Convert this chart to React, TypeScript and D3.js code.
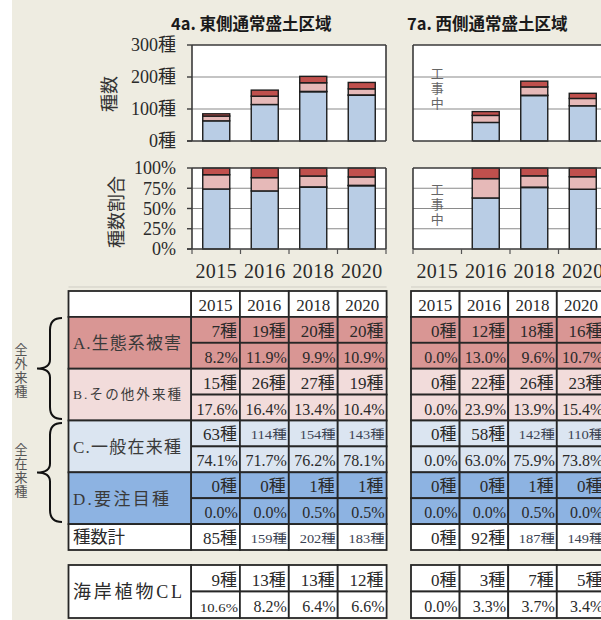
import React from 'react';
import * as d3 from 'd3';

const years = ['2015', '2016', '2018', '2020'];

// East (4a) counts
const eastA = [7, 19, 20, 20];
const eastB = [15, 26, 27, 19];
const eastC = [63, 114, 154, 143];
const eastD = [0, 0, 1, 1];
const eastTotal = [85, 159, 202, 183];
// East percents
const eastApct = [8.2, 11.9, 9.9, 10.9];
const eastBpct = [17.6, 16.4, 13.4, 10.4];
const eastCpct = [74.1, 71.7, 76.2, 78.1];
const eastDpct = [0.0, 0.0, 0.5, 0.5];
const eastCL = [9, 13, 13, 12];
const eastCLpct = [10.6, 8.2, 6.4, 6.6];

// West (7a) counts
const westA = [0, 12, 18, 16];
const westB = [0, 22, 26, 23];
const westC = [0, 58, 142, 110];
const westD = [0, 0, 1, 0];
const westTotal = [0, 92, 187, 149];
const westApct = [0.0, 13.0, 9.6, 10.7];
const westBpct = [0.0, 23.9, 13.9, 15.4];
const westCpct = [0.0, 63.0, 75.9, 73.8];
const westDpct = [0.0, 0.0, 0.5, 0.0];
const westCL = [0, 3, 7, 5];
const westCLpct = [0.0, 3.3, 3.7, 3.4];

const countTicks = [0, 100, 200, 300];
const pctTicks = [0, 25, 50, 75, 100];

const SERIF = "'Liberation Serif','Noto Sans CJK JP',serif";
const SANS = "'Noto Sans CJK JP','Noto Sans',sans-serif";

const BAR = { A: '#C0504D', B: '#E6B9B8', C: '#B9CDE5', D: '#8DB3E2' } as Record<string, string>;
const ROWBG = { A: '#D99694', B: '#F2DCDB', C: '#DBE5F1', D: '#8DB3E2' } as Record<string, string>;
const INK = '#2a2a2a';
const LINE = '#262626';

type Series = { A: number[]; B: number[]; C: number[]; D: number[] };

function Chart(props: {
  x0: number; x1: number; yTop: number; yBottom: number; max: number;
  ticks: number[]; fmt: (v: number) => string; data: Series; showLabels: boolean;
  xTicks: boolean; construction: boolean;
}) {
  const { x0, x1, yTop, yBottom, max, ticks, fmt, data, showLabels, xTicks, construction } = props;
  const x = d3.scaleBand<string>().domain(years).range([x0, x1]).paddingInner(0.443).paddingOuter(0.2215);
  const y = d3.scaleLinear().domain([0, max]).range([yBottom, yTop]);
  const rows = years.map((yr, i) => ({ year: yr, C: data.C[i], D: data.D[i], B: data.B[i], A: data.A[i] }));
  const stacked = d3.stack<any>().keys(['C', 'D', 'B', 'A'])(rows);
  const step = x.step();
  const bounds = d3.range(years.length + 1).map(k => x0 + k * step);
  return (
    <g>
      <rect x={x0} y={yTop} width={x1 - x0} height={yBottom - yTop} fill="#fff" />
      {ticks.filter(t => t > 0 && t < max).map(t => (
        <line key={'g' + t} x1={x0} x2={x1} y1={y(t)} y2={y(t)} stroke="#8a8a8a" strokeWidth={1.2} />
      ))}
      {stacked.map(layer => layer.map((seg, i) => {
        const h = y(seg[0]) - y(seg[1]);
        if (h <= 0) return null;
        return (
          <rect key={layer.key + i} x={x(years[i])} y={y(seg[1])} width={x.bandwidth()} height={h}
            fill={BAR[layer.key]} stroke="#1c1c1c" strokeWidth={1.4} />
        );
      }))}
      <line x1={x0} x2={x1} y1={yTop} y2={yTop} stroke="#3a3a3a" strokeWidth={1.6} />
      <line x1={x1} x2={x1} y1={yTop} y2={yBottom} stroke="#3a3a3a" strokeWidth={1.6} />
      <line x1={x0} x2={x0} y1={yTop} y2={yBottom} stroke="#3a3a3a" strokeWidth={1.6} />
      <line x1={x0 - (showLabels ? 5 : 0)} x2={x1} y1={yBottom} y2={yBottom} stroke="#3a3a3a" strokeWidth={1.6} />
      {showLabels && ticks.map(t => (
        <g key={'t' + t}>
          <line x1={x0 - 5} x2={x0} y1={y(t)} y2={y(t)} stroke="#3a3a3a" strokeWidth={1.4} />
          <text x={176} y={y(t)} dy="0.36em" textAnchor="end" fontFamily={SERIF} fontSize={18} fill={INK}>{fmt(t)}</text>
        </g>
      ))}
      {xTicks && bounds.map((b, k) => (
        <line key={'xt' + k} x1={b} x2={b} y1={yBottom} y2={yBottom + 5} stroke="#555" strokeWidth={1.2} />
      ))}
      {construction && (
        <text x={(x(years[0]) as number) + x.bandwidth() / 2} y={yTop + (yBottom - yTop) * 0.45 - 22}
          fontFamily={SANS} fontSize={13} letterSpacing={2} fill="#666"
          style={{ writingMode: 'vertical-rl', textOrientation: 'upright' } as any}>工事中</text>
      )}
    </g>
  );
}

function Panel(props: { x0: number; x1: number; counts: Series; pcts: Series; showLabels: boolean; construction: boolean; title: string; titleX: number }) {
  const { x0, x1, counts, pcts, showLabels, construction, title, titleX } = props;
  const x = d3.scaleBand<string>().domain(years).range([x0, x1]).paddingInner(0.443).paddingOuter(0.2215);
  return (
    <g>
      <text x={titleX} y={30} fontFamily={SANS} fontWeight="bold" fontSize={16.5} fill="#1a1a1a">{title}</text>
      <Chart x0={x0} x1={x1} yTop={45} yBottom={141} max={300} ticks={countTicks} fmt={v => v + '種'}
        data={counts} showLabels={showLabels} xTicks={false} construction={construction} />
      <Chart x0={x0} x1={x1} yTop={168} yBottom={249} max={100} ticks={pctTicks} fmt={v => v + '%'}
        data={pcts} showLabels={showLabels} xTicks={true} construction={construction} />
      {years.map(yr => (
        <text key={yr} x={(x(yr) as number) + x.bandwidth() / 2} y={278} textAnchor="middle"
          fontFamily={SERIF} fontSize={20} letterSpacing={0.4} fill={INK}>{yr}</text>
      ))}
    </g>
  );
}

const rowEdges = d3.range(11).map(i => 291 + i * 25.9);
const clEdges = [565, 591.5, 618];

function CountText({ v, xr, yb }: { v: number; xr: number; yb: number }) {
  if (v >= 100) {
    return <text x={xr - 2} y={yb - 1} textAnchor="end" fontFamily={SERIF} fontSize={12.5}
      textLength={36} lengthAdjust="spacingAndGlyphs" fill="#3a4252">{v + '種'}</text>;
  }
  return <text x={xr - 3} y={yb} textAnchor="end" fontFamily={SERIF} fontSize={17} fill={INK}>{v + '種'}</text>;
}

function PctText({ v, xr, yb, small }: { v: number; xr: number; yb: number; small?: boolean }) {
  const s = small && v >= 10;
  return <text x={xr - 2} y={yb} textAnchor="end" fontFamily={SERIF} fontSize={s ? 13.5 : 16}
    textLength={s ? 38 : undefined} lengthAdjust="spacingAndGlyphs" fill={INK}>{v.toFixed(1) + '%'}</text>;
}

function Table(props: {
  cols: number[]; label: boolean; labelX0?: number;
  counts: Series; pcts: Series; total: number[]; cl: number[]; clPct: number[];
}) {
  const { cols, label, labelX0 = 0, counts, pcts, total, cl, clPct } = props;
  const left = label ? labelX0 : cols[0];
  const right = cols[cols.length - 1];
  const groups = ['A', 'B', 'C', 'D'];
  const cells: any[] = [];
  years.forEach((yr, k) => {
    cells.push(<rect key={'h' + k} x={cols[k]} y={rowEdges[0]} width={cols[k + 1] - cols[k]} height={rowEdges[1] - rowEdges[0]} fill="#fff" stroke={LINE} strokeWidth={1.8} />);
    cells.push(<text key={'ht' + k} x={(cols[k] + cols[k + 1]) / 2} y={rowEdges[1] - 6} textAnchor="middle" fontFamily={SERIF} fontSize={17} fill={INK}>{yr}</text>);
  });
  if (label) cells.push(<rect key="hl" x={labelX0} y={rowEdges[0]} width={cols[0] - labelX0} height={rowEdges[1] - rowEdges[0]} fill="#fff" stroke={LINE} strokeWidth={1.8} />);
  groups.forEach((g, gi) => {
    const r0 = 1 + gi * 2;
    const cArr = (counts as any)[g] as number[];
    const pArr = (pcts as any)[g] as number[];
    [0, 1].forEach(sub => {
      const ya = rowEdges[r0 + sub], yb = rowEdges[r0 + sub + 1];
      years.forEach((yr, k) => {
        cells.push(<rect key={g + sub + k} x={cols[k]} y={ya} width={cols[k + 1] - cols[k]} height={yb - ya} fill={ROWBG[g]} stroke={LINE} strokeWidth={1.8} />);
        cells.push(sub === 0
          ? <CountText key={g + sub + 't' + k} v={cArr[k]} xr={cols[k + 1]} yb={yb - 6} />
          : <PctText key={g + sub + 't' + k} v={pArr[k]} xr={cols[k + 1]} yb={yb - 6} />);
      });
    });
    if (label) {
      cells.push(<rect key={'l' + g} x={labelX0} y={rowEdges[r0]} width={cols[0] - labelX0} height={rowEdges[r0 + 2] - rowEdges[r0]} fill={ROWBG[g]} stroke={LINE} strokeWidth={1.8} />);
    }
  });
  years.forEach((yr, k) => {
    cells.push(<rect key={'tot' + k} x={cols[k]} y={rowEdges[9]} width={cols[k + 1] - cols[k]} height={rowEdges[10] - rowEdges[9]} fill="#fff" stroke={LINE} strokeWidth={1.8} />);
    cells.push(<CountText key={'tott' + k} v={total[k]} xr={cols[k + 1]} yb={rowEdges[10] - 6} />);
  });
  if (label) cells.push(<rect key="totl" x={labelX0} y={rowEdges[9]} width={cols[0] - labelX0} height={rowEdges[10] - rowEdges[9]} fill="#fff" stroke={LINE} strokeWidth={1.8} />);
  [0, 1].forEach(sub => {
    const ya = clEdges[sub], yb = clEdges[sub + 1];
    years.forEach((yr, k) => {
      cells.push(<rect key={'cl' + sub + k} x={cols[k]} y={ya} width={cols[k + 1] - cols[k]} height={yb - ya} fill="#fff" stroke={LINE} strokeWidth={1.8} />);
      cells.push(sub === 0
        ? <CountText key={'clt' + sub + k} v={cl[k]} xr={cols[k + 1]} yb={yb - 6} />
        : <PctText key={'clt' + sub + k} v={clPct[k]} xr={cols[k + 1]} yb={yb - 6} small />);
    });
  });
  if (label) cells.push(<rect key="cll" x={labelX0} y={clEdges[0]} width={cols[0] - labelX0} height={clEdges[2] - clEdges[0]} fill="#fff" stroke={LINE} strokeWidth={1.8} />);
  return (
    <g>
      <line x1={left} x2={Math.min(right, 601)} y1={287} y2={287} stroke="#cfcdc4" strokeWidth={1} />
      {cells}
    </g>
  );
}

function Brace({ top, bottom }: { top: number; bottom: number }) {
  const mid = (top + bottom) / 2;
  const d = `M62,${top} Q50,${top} 50,${top + 12} L50,${mid - 9} Q50,${mid} 37,${mid} Q50,${mid} 50,${mid + 9} L50,${bottom - 12} Q50,${bottom} 62,${bottom}`;
  return <path d={d} fill="none" stroke="#111" strokeWidth={2} />;
}

function VText({ chars, x, y0 }: { chars: string; x: number; y0: number }) {
  return (
    <text x={x} y={y0} fontFamily={SANS} fontSize={13} letterSpacing={1} fill="#555"
      style={{ writingMode: 'vertical-rl', textOrientation: 'upright' } as any}>{chars}</text>
  );
}

export default function App() {
  const eastCounts = { A: eastA, B: eastB, C: eastC, D: eastD };
  const eastPcts = { A: eastApct, B: eastBpct, C: eastCpct, D: eastDpct };
  const westCounts = { A: westA, B: westB, C: westC, D: westD };
  const westPcts = { A: westApct, B: westBpct, C: westCpct, D: westDpct };
  const leftCols = d3.range(5).map(k => 191 + k * 48.9);
  const rightCols = d3.range(5).map(k => 411 + k * 48.6);
  const labelX = 73;
  const labels = [
    { t: 'A.生態系被害', y: 343, size: 17, len: 108 },
    { t: 'B.その他外来種', y: 394.5, size: 13.5, len: 108 },
    { t: 'C.一般在来種', y: 446.5, size: 17, len: 108 },
    { t: 'D.要注目種', y: 498.5, size: 17, len: 96 },
  ];
  return (
    <svg width={601} height={620} style={{ position: 'absolute', left: 0, top: 0 }} xmlns="http://www.w3.org/2000/svg">
      <rect x={0} y={0} width={601} height={620} fill="#EEECE1" />
      <rect x={0} y={0} width={12} height={620} fill="#fff" />
      <Panel x0={192} x1={386} counts={eastCounts} pcts={eastPcts} showLabels={true} construction={false}
        title="4a. 東側通常盛土区域" titleX={171} />
      <Panel x0={413} x1={607} counts={westCounts} pcts={westPcts} showLabels={false} construction={true}
        title="7a. 西側通常盛土区域" titleX={407} />
      <text transform="translate(110,94) rotate(-90)" dy="0.36em" textAnchor="middle" fontFamily={SANS} fontSize={18} fill="#333">種数</text>
      <text transform="translate(117,212) rotate(-90)" dy="0.36em" textAnchor="middle" fontFamily={SANS} fontSize={18} fill="#333">種数割合</text>
      <Table cols={leftCols} label={true} labelX0={68.5} counts={eastCounts} pcts={eastPcts} total={eastTotal} cl={eastCL} clPct={eastCLpct} />
      <Table cols={rightCols} label={false} counts={westCounts} pcts={westPcts} total={westTotal} cl={westCL} clPct={westCLpct} />
      {labels.map(l => (
        <text key={l.t} x={labelX} y={l.y} dy="0.36em" fontFamily={SERIF} fontSize={l.size}
          textLength={l.len} lengthAdjust="spacing" fill="#3a3a3a">{l.t}</text>
      ))}
      <text x={labelX} y={537} dy="0.36em" fontFamily={SERIF} fontSize={17.5} textLength={52} lengthAdjust="spacing" fill="#2a2a2a">種数計</text>
      <text x={labelX} y={591.5} dy="0.36em" fontFamily={SERIF} fontSize={18} textLength={109} lengthAdjust="spacing" fill="#2a2a2a">海岸植物CL</text>
      <Brace top={318} bottom={419} />
      <Brace top={423} bottom={522} />
      <VText chars="全外来種" x={21} y0={343} />
      <VText chars="全在来種" x={21} y0={443} />
    </svg>
  );
}
